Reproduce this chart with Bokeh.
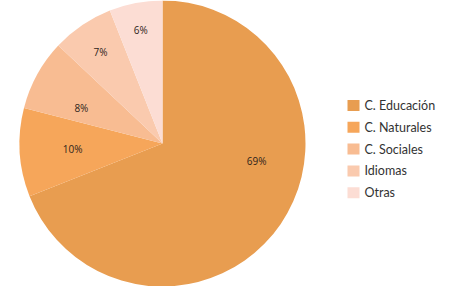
import math
from bokeh.plotting import figure
from bokeh.models import ColumnDataSource
from bokeh.core.properties import value
from bokeh.embed import file_html
from bokeh.resources import INLINE

# ---- data ----
categories = ["C. Educación", "C. Naturales", "C. Sociales", "Idiomas", "Otras"]
shares = [69, 10, 8, 7, 6]
labels = ["69%", "10%", "8%", "7%", "6%"]
colors = ["#E89D50", "#F6A65A", "#F8BC92", "#FACAAE", "#FCDDD4"]

# ---- layout (styling, not data) ----
W, H = 438, 286
cx, cy, R = 162, 143, 143
label_rfrac = [0.67, 0.63, 0.62, 0.77, 0.81]
label_ang_shift = [math.radians(23.6), 0, math.radians(5), 0, 0]

p = figure(width=W, height=H, x_range=(0, W), y_range=(0, H),
           output_backend="svg", toolbar_location=None, min_border=0)
p.axis.visible = False
p.grid.visible = False
p.outline_line_color = None
p.background_fill_color = "white"

total = float(sum(shares))
starts, ends, lx, ly = [], [], [], []
cum = 0.0
for i, s in enumerate(shares):
    a0 = math.pi / 2 - 2 * math.pi * cum / total
    cum += s
    a1 = math.pi / 2 - 2 * math.pi * cum / total
    starts.append(a1)
    ends.append(a0)
    mid = (a0 + a1) / 2 + label_ang_shift[i]
    r = R * label_rfrac[i]
    lx.append(cx + r * math.cos(mid))
    ly.append(cy + r * math.sin(mid))

src = ColumnDataSource(dict(start=starts, end=ends, color=colors,
                            lx=lx, ly=ly, label=labels))
p.wedge(x=cx, y=cy, radius=R, start_angle="start", end_angle="end",
        fill_color="color", line_color=None, source=src)
p.text(x="lx", y="ly", text="label", source=src, text_align="center",
       text_baseline="middle", text_font=value("Open Sans"),
       text_font_size="10px", text_color="#2e241b")

# legend
n = len(categories)
ly0 = H - 105
step = 21.8
leg = ColumnDataSource(dict(
    x=[353] * n,
    y=[ly0 - i * step for i in range(n)],
    tx=[364] * n,
    color=colors, name=categories))
p.rect(x="x", y="y", width=12, height=11, fill_color="color",
       line_color=None, source=leg)
p.text(x="tx", y="y", text="name", source=leg, text_align="left",
       text_baseline="middle", text_font=value("Lato"),
       text_font_size="12.5px", text_color="#333333")

open("out.html", "w").write(file_html(p, INLINE))
